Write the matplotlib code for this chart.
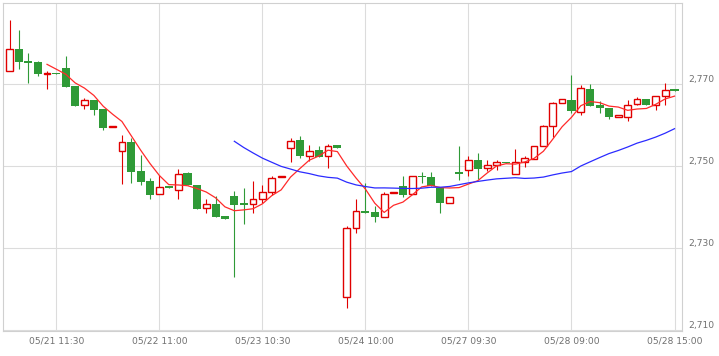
import matplotlib
matplotlib.use('Agg')
import matplotlib.pyplot as plt
import numpy as np
import pandas as pd

# Data (one candle per bar)
opens = [2773.1, 2778.5, 2775.7, 2775.4, 2772.5, 2772.7, 2773.9, 2769.5, 2764.8, 2766.1,
         2763.9, 2759.5, 2753.8, 2755.8, 2748.8, 2746.3, 2743.1, 2745.1, 2744.1, 2748.3,
         2745.4, 2739.7, 2740.7, 2737.8, 2742.7, 2740.8, 2740.7, 2742.0, 2743.6, 2747.3,
         2754.5, 2756.3, 2752.6, 2753.9, 2752.4, 2755.1, 2718.2, 2735.0, 2739.0, 2738.8,
         2737.7, 2743.4, 2745.1, 2743.1, 2747.4, 2747.4, 2744.7, 2741.1, 2748.5, 2749.0,
         2751.6, 2749.5, 2750.3, 2751.0, 2748.0, 2751.1, 2751.8, 2754.8, 2759.7, 2765.5,
         2766.1, 2763.3, 2768.8, 2764.8, 2764.1, 2762.1, 2762.1, 2765.1, 2766.4, 2764.9,
         2767.2, 2768.8]
highs = [2785.6, 2783.2, 2777.5, 2775.6, 2773.2, 2772.7, 2776.8, 2769.5, 2766.6, 2766.1,
         2763.9, 2759.6, 2757.7, 2756.8, 2752.7, 2747.0, 2747.8, 2745.1, 2749.4, 2748.6,
         2745.4, 2742.1, 2742.7, 2737.8, 2744.0, 2744.6, 2746.3, 2745.3, 2747.6, 2747.6,
         2756.9, 2757.3, 2755.1, 2754.8, 2755.5, 2755.1, 2735.4, 2741.9, 2746.0, 2740.4,
         2743.6, 2743.7, 2747.6, 2747.5, 2748.7, 2748.5, 2744.7, 2742.4, 2755.0, 2752.4,
         2753.2, 2751.5, 2751.5, 2751.0, 2754.1, 2752.4, 2755.0, 2760.0, 2765.6, 2766.3,
         2772.2, 2769.8, 2770.0, 2765.9, 2764.1, 2762.2, 2766.1, 2766.8, 2766.5, 2767.2,
         2770.2, 2768.8]
lows = [2773.1, 2773.8, 2770.4, 2772.0, 2768.9, 2772.5, 2769.3, 2764.7, 2764.0, 2762.6,
        2758.8, 2759.5, 2745.6, 2746.0, 2745.5, 2742.1, 2743.1, 2744.7, 2742.1, 2745.3,
        2739.6, 2738.5, 2737.6, 2737.2, 2723.0, 2735.8, 2738.5, 2741.0, 2742.9, 2747.3,
        2750.9, 2751.9, 2751.2, 2752.2, 2749.6, 2754.5, 2715.5, 2733.6, 2738.7, 2736.3,
        2737.7, 2743.4, 2742.5, 2743.1, 2745.8, 2745.2, 2738.5, 2741.1, 2746.6, 2747.6,
        2746.9, 2748.9, 2749.0, 2750.7, 2748.0, 2749.7, 2751.8, 2754.8, 2757.1, 2765.5,
        2762.9, 2762.4, 2764.6, 2763.0, 2761.4, 2762.1, 2761.0, 2764.9, 2764.8, 2763.8,
        2765.0, 2768.4]
closes = [2778.5, 2775.4, 2775.2, 2772.5, 2772.6, 2772.5, 2769.3, 2764.7, 2766.1, 2763.7,
          2759.3, 2759.6, 2755.8, 2748.6, 2746.2, 2743.0, 2745.0, 2744.7, 2748.2, 2745.3,
          2739.6, 2740.7, 2737.6, 2737.2, 2740.6, 2740.6, 2742.1, 2743.6, 2747.2, 2747.6,
          2756.2, 2752.5, 2753.8, 2752.2, 2754.8, 2754.5, 2735.0, 2739.0, 2738.7, 2737.6,
          2743.3, 2743.7, 2742.9, 2747.5, 2747.3, 2745.2, 2741.0, 2742.4, 2748.0, 2751.6,
          2749.3, 2750.4, 2751.0, 2750.7, 2751.1, 2751.9, 2754.8, 2759.7, 2765.4, 2766.3,
          2763.4, 2769.0, 2764.7, 2764.1, 2762.1, 2762.2, 2765.0, 2766.3, 2764.8, 2767.2,
          2768.7, 2768.4]

tick_pos = [5, 16, 27, 38, 49, 60, 71]
tick_labels = ['05/21 11:30', '05/22 11:00', '05/23 10:30', '05/24 10:00',
               '05/27 09:30', '05/28 09:00', '05/28 15:00']
y_ticks = [2710, 2730, 2750, 2770]
y_labels = ['2,710', '2,730', '2,750', '2,770']

RED = '#e00000'
GREEN = '#2f9a37'

o = np.array(opens)
h = np.array(highs)
l = np.array(lows)
c = np.array(closes)
x = np.arange(len(c))
up = c >= o

# moving averages of close
ma5 = pd.Series(c).rolling(5).mean()
ma25 = pd.Series(c).rolling(25).mean()

fig = plt.figure(figsize=(7.19, 3.56), dpi=100)
ax = fig.add_axes([3 / 719, 1 - 331 / 356, 679 / 719, 328 / 356])

# wicks
ax.vlines(x[up], l[up], h[up], color=RED, lw=0.8, zorder=2)
ax.vlines(x[~up], l[~up], h[~up], color=GREEN, lw=0.8, zorder=2)

# bodies
body = np.maximum(np.abs(c - o), 0.3)
bottom = np.minimum(o, c)
ax.bar(x[up], body[up], bottom=bottom[up], width=0.72, facecolor='white',
       edgecolor=RED, linewidth=1.0, zorder=3)
ax.bar(x[~up], body[~up], bottom=bottom[~up], width=0.86, color=GREEN,
       linewidth=0, zorder=3)

# MA lines
ax.plot(x, ma5, color='#ff2a2a', lw=0.9, zorder=4)
ax.plot(x, ma25, color='#2b2bff', lw=0.9, zorder=4)

ax.set_xlim(-0.7, 71.8)
ax.set_ylim(2709.8, 2789.8)

ax.set_xticks(tick_pos)
ax.set_xticklabels(tick_labels)
ax.set_yticks(y_ticks)
ax.set_yticklabels(y_labels)
ax.yaxis.tick_right()
ax.tick_params(length=0, labelsize=6.6, labelcolor='#707070')
ax.tick_params(axis='x', pad=4)
ax.tick_params(axis='y', pad=4.5)
for t in ax.get_yticklabels():
    t.set_va('bottom')

ax.grid(True, color='#dcdcdc', lw=0.8)
ax.set_axisbelow(True)
for s in ax.spines.values():
    s.set_color('#d0d0d0')
    s.set_linewidth(0.8)

plt.savefig('out.png', dpi=100)
